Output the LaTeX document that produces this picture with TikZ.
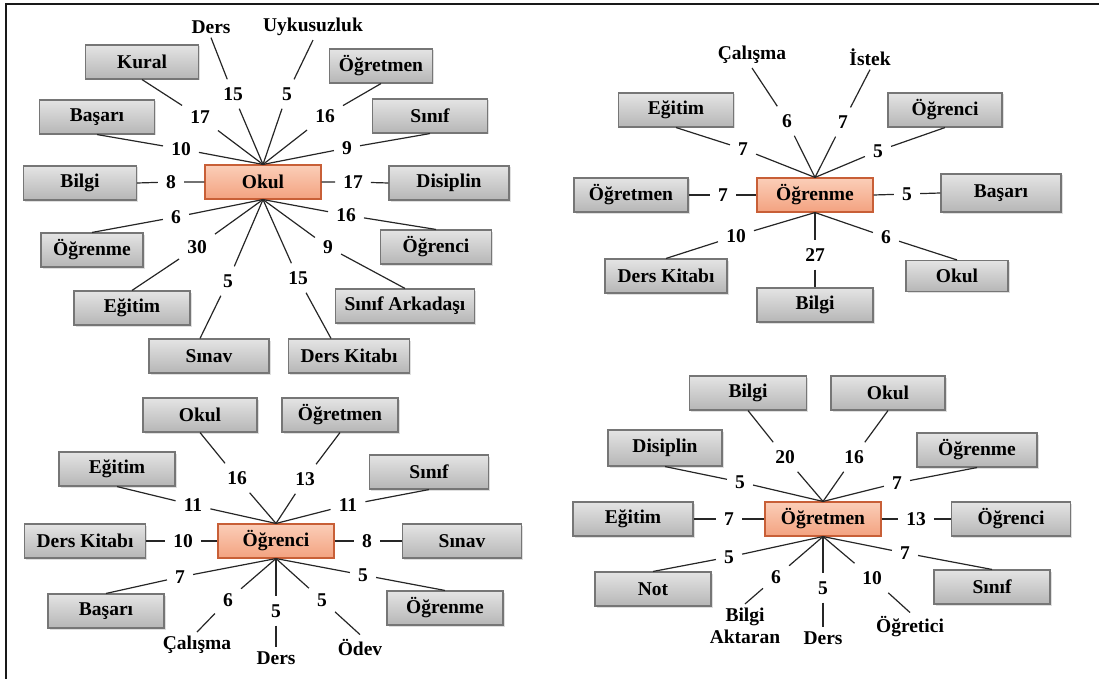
\documentclass[tikz,border=0pt]{standalone}
\usepackage{fontspec}
\setmainfont{Liberation Serif}
\usetikzlibrary{shadows}
\definecolor{hubtop}{RGB}{251,206,184}
\definecolor{hubbot}{RGB}{243,162,128}
\definecolor{hubdraw}{RGB}{200,95,55}
\definecolor{boxtop}{RGB}{228,228,228}
\definecolor{boxbot}{RGB}{182,182,182}
\definecolor{boxdraw}{RGB}{118,118,118}
\begin{document}
\begin{tikzpicture}[x=1pt,y=-1pt,
  every node/.style={font=\fontsize{19.5}{22}\selectfont\bfseries},
  gbox/.style={draw=boxdraw, line width=1.1pt, top color=boxtop, bottom color=boxbot,
    minimum height=34pt, minimum width=115pt, inner sep=2pt,
    drop shadow={shadow xshift=1.5pt,shadow yshift=-1.5pt,opacity=0.25}},
  hbox/.style={draw=hubdraw, line width=1.1pt, top color=hubtop, bottom color=hubbot,
    minimum height=34pt, minimum width=116pt, inner sep=2pt},
  num/.style={inner xsep=8pt, inner ysep=8pt},
  lbl/.style={inner sep=4pt, align=center},
  link/.style={line width=1.2pt, black!85}
]
\useasboundingbox (0,0) rectangle (1099,679);
\draw[line width=2pt, black!90] (6,679) -- (6,4) -- (1099,4);

% ---------------- Panel 1: Okul ----------------
\node[hbox] (okul1) at (263,182) {Okul};
\node[gbox,minimum width=113pt] (kural1) at (142,62) {Kural};
\node[gbox] (basari1) at (97,117) {Başarı};
\node[gbox,minimum width=113pt] (bilgi1) at (80,183) {Bilgi};
\node[gbox,minimum width=102pt] (ogrenme1) at (92,250) {Öğrenme};
\node[gbox,minimum width=116pt] (egitim1) at (132,308) {Eğitim};
\node[gbox,minimum width=120pt] (sinav1) at (209,356) {Sınav};
\node[gbox,minimum width=121pt] (dk1) at (349,356) {Ders Kitabı};
\node[gbox,minimum width=139pt] (sa1) at (405,306) {Sınıf Arkadaşı};
\node[gbox,minimum width=111pt] (ogrenci1) at (436,247) {Öğrenci};
\node[gbox,minimum width=120pt] (disiplin1) at (449,183) {Disiplin};
\node[gbox] (sinif1) at (430,116) {Sınıf};
\node[gbox,minimum width=103pt] (ogretmen1) at (381,66) {Öğretmen};
\node[lbl] (ders1) at (211,27) {Ders};
\node[lbl] (uyku1) at (313,27) {Uykusuzluk};

\node[num] (a1) at (233,94) {15};
\node[num] (a2) at (287,94) {5};
\node[num] (a3) at (200,117) {17};
\node[num] (a4) at (325,116) {16};
\node[num] (a5) at (181,149) {10};
\node[num] (a6) at (347,148) {9};
\node[num] (a7) at (171,182) {8};
\node[num] (a8) at (353,182) {17};
\node[num] (a9) at (176,217) {6};
\node[num] (a10) at (346,215) {16};
\node[num] (a11) at (197,247) {30};
\node[num] (a12) at (328,247) {9};
\node[num] (a13) at (228,281) {5};
\node[num] (a14) at (298,278) {15};

\draw[link] (okul1.north) -- (a1) (a1) -- (ders1.south);
\draw[link] (okul1.north) -- (a2) (a2) -- (uyku1.south);
\draw[link] (okul1.north) -- (a3) (a3) -- (kural1.south);
\draw[link] (okul1.north) -- (a4) (a4) -- (ogretmen1.south);
\draw[link] (okul1.north) -- (a5) (a5) -- (basari1.south);
\draw[link] (okul1.north) -- (a6) (a6) -- (sinif1.south);
\draw[link] (bilgi1.east) -- (a7) (a7) -- (okul1.west);
\draw[link] (okul1.east) -- (a8) (a8) -- (disiplin1.west);
\draw[link] (okul1.south) -- (a9) (a9) -- (ogrenme1.north);
\draw[link] (okul1.south) -- (a10) (a10) -- (ogrenci1.north);
\draw[link] (okul1.south) -- (a11) (a11) -- (egitim1.north);
\draw[link] (okul1.south) -- (a12) (a12) -- (sa1.north);
\draw[link] (okul1.south) -- (a13) (a13) -- ([xshift=-9pt]sinav1.north);
\draw[link] (okul1.south) -- (a14) (a14) -- ([xshift=-18pt]dk1.north);

% ---------------- Panel 2: Ogrenme ----------------
\node[hbox] (ogrenme2) at (815,195) {Öğrenme};
\node[gbox] (egitim2) at (676,110) {Eğitim};
\node[gbox,minimum width=114pt] (ogretmen2) at (631,195) {Öğretmen};
\node[gbox,minimum width=122pt] (dk2) at (666,276) {Ders Kitabı};
\node[gbox,minimum width=116pt] (bilgi2) at (815,305) {Bilgi};
\node[gbox,minimum width=102pt,minimum height=31pt] (okul2) at (957,276) {Okul};
\node[gbox,minimum width=120pt,minimum height=38pt] (basari2) at (1001,193) {Başarı};
\node[gbox,minimum width=114pt] (ogrenci2) at (945,110) {Öğrenci};
\node[lbl] (calisma2) at (752,55) {Çalışma};
\node[lbl] (istek2) at (870,57) {İstek};

\node[num] (b1) at (787,121) {6};
\node[num] (b2) at (843,122) {7};
\node[num] (b3) at (743,149) {7};
\node[num] (b4) at (878,151) {5};
\node[num] (b5) at (723,195) {7};
\node[num] (b6) at (907,194) {5};
\node[num] (b7) at (736,236) {10};
\node[num] (b8) at (815,255) {27};
\node[num] (b9) at (886,237) {6};

\draw[link] (ogrenme2.north) -- (b1) (b1) -- (calisma2.south);
\draw[link] (ogrenme2.north) -- (b2) (b2) -- (istek2.south);
\draw[link] (ogrenme2.north) -- (b3) (b3) -- (egitim2.south);
\draw[link] (ogrenme2.north) -- (b4) (b4) -- (ogrenci2.south);
\draw[link] (ogretmen2.east) -- (b5) (b5) -- (ogrenme2.west);
\draw[link] (ogrenme2.east) -- (b6) (b6) -- (basari2.west);
\draw[link] (ogrenme2.south) -- (b7) (b7) -- (dk2.north);
\draw[link] (ogrenme2.south) -- (b8) (b8) -- (bilgi2.north);
\draw[link] (ogrenme2.south) -- (b9) (b9) -- (okul2.north);

% ---------------- Panel 3: Ogrenci ----------------
\node[hbox] (ogrenci3) at (276,541) {Öğrenci};
\node[gbox,minimum width=114pt] (okul3) at (200,415) {Okul};
\node[gbox,minimum width=116pt] (ogretmen3) at (340,415) {Öğretmen};
\node[gbox,minimum width=116pt] (egitim3) at (117,469) {Eğitim};
\node[gbox,minimum width=119pt] (sinif3) at (429,472) {Sınıf};
\node[gbox,minimum width=121pt] (dk3) at (85,541) {Ders Kitabı};
\node[gbox,minimum width=119pt] (sinav3) at (462,541) {Sınav};
\node[gbox,minimum width=116pt] (basari3) at (106,611) {Başarı};
\node[gbox,minimum width=116pt] (ogrenme3) at (445,608) {Öğrenme};
\node[lbl] (calisma3) at (197,645) {Çalışma};
\node[lbl] (ders3) at (276,658) {Ders};
\node[lbl] (odev3) at (360,647) {Ödev};

\node[num] (c1) at (237,478) {16};
\node[num] (c2) at (305,479) {13};
\node[num] (c3) at (193,505) {11};
\node[num] (c4) at (348,505) {11};
\node[num] (c5) at (183,541) {10};
\node[num] (c6) at (367,541) {8};
\node[num] (c7) at (180,577) {7};
\node[num] (c8) at (363,575) {5};
\node[num] (c9) at (228,600) {6};
\node[num] (c10) at (276,611) {5};
\node[num] (c11) at (322,600) {5};

\draw[link] (ogrenci3.north) -- (c1) (c1) -- (okul3.south);
\draw[link] (ogrenci3.north) -- (c2) (c2) -- (ogretmen3.south);
\draw[link] (ogrenci3.north) -- (c3) (c3) -- (egitim3.south);
\draw[link] (ogrenci3.north) -- (c4) (c4) -- (sinif3.south);
\draw[link] (dk3.east) -- (c5) (c5) -- (ogrenci3.west);
\draw[link] (ogrenci3.east) -- (c6) (c6) -- (sinav3.west);
\draw[link] (ogrenci3.south) -- (c7) (c7) -- (basari3.north);
\draw[link] (ogrenci3.south) -- (c8) (c8) -- (ogrenme3.north);
\draw[link] (ogrenci3.south) -- (c9) (c9) -- (calisma3.north);
\draw[link] (ogrenci3.south) -- (c10) (c10) -- (ders3.north);
\draw[link] (ogrenci3.south) -- (c11) (c11) -- (odev3.north);

% ---------------- Panel 4: Ogretmen ----------------
\node[hbox] (ogretmen4) at (823,519) {Öğretmen};
\node[gbox,minimum width=117pt] (bilgi4) at (748,393) {Bilgi};
\node[gbox,minimum width=114pt] (okul4) at (888,393) {Okul};
\node[gbox,minimum width=114pt,minimum height=36pt] (disiplin4) at (665,448) {Disiplin};
\node[gbox,minimum width=120pt] (ogrenme4) at (977,450) {Öğrenme};
\node[gbox,minimum width=120pt] (egitim4) at (633,519) {Eğitim};
\node[gbox,minimum width=119pt] (ogrenci4) at (1011,519) {Öğrenci};
\node[gbox,minimum width=116pt] (not4) at (653,589) {Not};
\node[gbox,minimum width=116pt] (sinif4) at (992,587) {Sınıf};
\node[lbl] (ba4) at (745,626) {Bilgi\\Aktaran};
\node[lbl] (ders4) at (823,638) {Ders};
\node[lbl] (ogretici4) at (910,627) {Öğretici};

\node[num] (d1) at (785,457) {20};
\node[num] (d2) at (854,457) {16};
\node[num] (d3) at (740,482) {5};
\node[num] (d4) at (897,483) {7};
\node[num] (d5) at (729,519) {7};
\node[num] (d6) at (916,519) {13};
\node[num] (d7) at (729,557) {5};
\node[num] (d8) at (905,553) {7};
\node[num] (d9) at (776,577) {6};
\node[num] (d10) at (823,588) {5};
\node[num] (d11) at (872,578) {10};

\draw[link] (ogretmen4.north) -- (d1) (d1) -- (bilgi4.south);
\draw[link] (ogretmen4.north) -- (d2) (d2) -- (okul4.south);
\draw[link] (ogretmen4.north) -- (d3) (d3) -- (disiplin4.south);
\draw[link] (ogretmen4.north) -- (d4) (d4) -- (ogrenme4.south);
\draw[link] (egitim4.east) -- (d5) (d5) -- (ogretmen4.west);
\draw[link] (ogretmen4.east) -- (d6) (d6) -- (ogrenci4.west);
\draw[link] (ogretmen4.south) -- (d7) (d7) -- (not4.north);
\draw[link] (ogretmen4.south) -- (d8) (d8) -- (sinif4.north);
\draw[link] (ogretmen4.south) -- (d9) (d9) -- (ba4.north);
\draw[link] (ogretmen4.south) -- (d10) (d10) -- (ders4.north);
\draw[link] (ogretmen4.south) -- (d11) (d11) -- (ogretici4.north);
\end{tikzpicture}
\end{document}
